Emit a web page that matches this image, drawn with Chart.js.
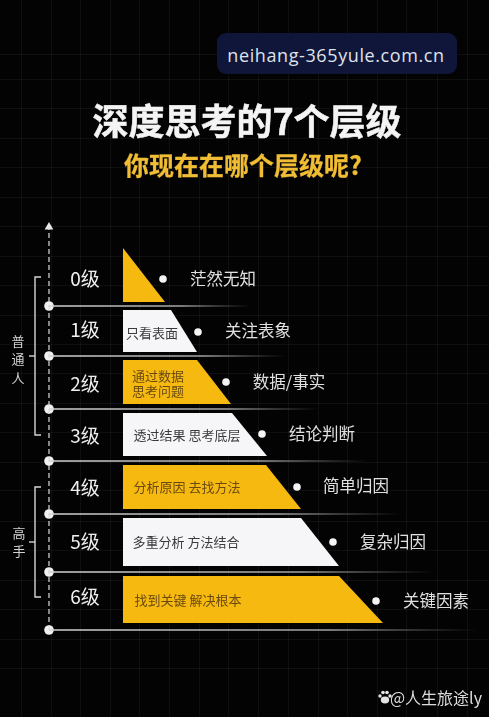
<!DOCTYPE html>
<html lang="zh">
<head>
<meta charset="utf-8">
<style>
    html, body { margin: 0; padding: 0; background: #000; }
    #page { position: relative; width: 489px; height: 717px; overflow: hidden; background: #030303; font-family: "Noto Sans CJK SC", sans-serif; }
    canvas { position: absolute; left: 0; top: 0; }
    .text { position: absolute; white-space: nowrap; transform: translate(-50%, -50%); }
    #badge { position: absolute; left: 217px; top: 33px; width: 240px; height: 41px; border-radius: 9px; background: #10163a; }
    #site { left: 336px; top: 55px; font: 18px "Open Sans", sans-serif; letter-spacing: .6px; color: #dfe2ea; }
    #title { left: 247px; top: 119px; font-size: 36px; font-weight: 700; color: #f4f4f4; -webkit-text-stroke: .5px #f4f4f4; }
    #subtitle { left: 243px; top: 164px; font-size: 25px; font-weight: 700; color: #f1bd35; -webkit-text-stroke: .3px #f1bd35; }
    #mark { left: 436px; top: 697px; font-size: 16px; color: #dcdcdc; }
    #paw { position: absolute; left: 378px; top: 690px; }
</style>
</head>
<body>
<div id="page">
    <canvas id="chart" width="489" height="717"></canvas>
    <div id="badge"></div>
    <div class="text" id="site">neihang-365yule.com.cn</div>
    <div class="text" id="title">深度思考的7个层级</div>
    <div class="text" id="subtitle">你现在在哪个层级呢?</div>
    <svg id="paw" width="14" height="14" viewBox="0 0 14 14" fill="#e4e4e4">
        <circle cx="2" cy="6" r="1.7"/><circle cx="5" cy="2.5" r="1.8"/><circle cx="9" cy="2.5" r="1.8"/><circle cx="12" cy="6" r="1.7"/>
        <ellipse cx="7" cy="10" rx="4.2" ry="3.4"/>
    </svg>
    <div class="text" id="mark">@人生旅途ly</div>
</div>
<script src="https://cdn.jsdelivr.net/npm/chart.js@4/dist/chart.umd.min.js"></script>
<script>
// valores, en unidades de los ejes
const levels = ['0级', '1级', '2级', '3级', '4级', '5级', '6级'];
const notes = ['茫然无知', '关注表象', '数据/事实', '结论判断', '简单归因', '复杂归因', '关键因素'];
const insideText = [[], ['只看表面'], ['通过数据', '思考问题'], ['透过结果 思考底层'], ['分析原因 去找方法'], ['多重分析 方法结合'], ['找到关键 解决根本']];
const rowTop = [248, 310, 360, 413, 465, 518, 576];
const rowBottom = [302, 352, 404, 456, 509, 566, 623];
const edgeTop = [123, 171, 197, 232, 266, 301, 339];
const edgeBottom = [165, 197, 231, 267, 301, 339, 383];
const ruleY = [306, 356, 409, 461, 514, 572, 630];
const ruleEnd = [252, 287, 320, 370, 403, 437, 480];
const dotX = [163, 198, 226, 262, 297, 333, 376];
const dotY = [279, 332, 382, 434, 487, 542, 601];
const levelY = [279, 330, 384, 436, 488, 542, 597];
const noteX = [223, 258, 289, 322, 356, 393, 436];
const noteY = [279, 331, 382, 434, 486, 542, 601];
const insideX = [0, 152, 158, 187, 187, 186, 188];
const insideY = [0, 333, 384, 435, 487, 542, 600];
const gridX = [21, 51, 80, 110, 139, 169, 199, 228, 258, 288, 318, 347, 377, 406, 437, 467];
const gridY = [54, 79, 108, 138, 167, 197, 226, 256, 285, 315, 344, 373, 403, 432, 462, 491, 521, 550, 580, 609, 639, 668];
const axisStart = 630;
const axisEnd = 227;
const normalBracket = [277, 356, 435];
const expertBracket = [487, 542, 597];

const YELLOW = '#f5b90f';
const WHITE = '#f6f6f8';
const isYellow = (i) => i % 2 === 0;

const datasets = [];

levels.forEach((_, i) => {
    datasets.push({
        showLine: true,
        pointRadius: 0,
        borderWidth: 0,
        backgroundColor: isYellow(i) ? YELLOW : WHITE,
        fill: { value: rowBottom[i] },
        data: [
            { x: 123, y: rowTop[i] },
            { x: edgeTop[i], y: rowTop[i] },
            { x: edgeBottom[i], y: rowBottom[i] },
        ],
    });
    datasets.push({
        showLine: true,
        pointRadius: 0,
        borderWidth: 1.5,
        borderColor: (ctx) => {
            const { chart } = ctx;
            if (!chart.chartArea) return '#bbb';
            const xs = chart.scales.x;
            const g = chart.ctx.createLinearGradient(xs.getPixelForValue(49), 0, xs.getPixelForValue(ruleEnd[i]), 0);
            g.addColorStop(0, '#d4d4d4');
            g.addColorStop(0.65, '#a4a4a4');
            g.addColorStop(1, 'rgba(120,120,120,0)');
            return g;
        },
        data: [{ x: 49, y: ruleY[i] }, { x: ruleEnd[i], y: ruleY[i] }],
    });
});

// eje discontinuo con flecha
datasets.push({
    showLine: true,
    pointRadius: 0,
    borderWidth: 1.2,
    borderColor: '#dddddd',
    borderDash: [5, 3],
    data: [{ x: 49, y: axisStart }, { x: 49, y: axisEnd }],
});
datasets.push({
    pointStyle: 'triangle',
    pointRadius: 5,
    backgroundColor: '#e8e8e8',
    borderWidth: 0,
    data: [{ x: 49, y: axisEnd }],
});

// llaves de los dos grupos
[normalBracket, expertBracket].forEach(([top, mid, bottom]) => {
    datasets.push({
        showLine: true,
        pointRadius: 0,
        borderWidth: 1.4,
        borderColor: '#d6d6d6',
        data: [{ x: 41, y: top }, { x: 35, y: top }, { x: 35, y: bottom }, { x: 41, y: bottom }],
    });
    datasets.push({
        showLine: true,
        pointRadius: 0,
        borderWidth: 1.4,
        borderColor: '#d6d6d6',
        data: [{ x: 29, y: mid }, { x: 35, y: mid }],
    });
});

datasets.push({
    pointRadius: 4.8,
    backgroundColor: '#f0f0f0',
    borderWidth: 0,
    data: ruleY.map((y) => ({ x: 49, y })),
});
datasets.push({
    pointRadius: 3.8,
    backgroundColor: '#f4f4f4',
    borderWidth: 0,
    data: dotX.map((x, i) => ({ x, y: dotY[i] })),
});

const rowLabels = {
    id: 'rowLabels',
    afterDatasetsDraw(chart) {
        const { ctx, scales: { x, y } } = chart;
        const put = (text, px, py, font, color) => {
            ctx.font = font;
            ctx.fillStyle = color;
            ctx.fillText(text, x.getPixelForValue(px), y.getPixelForValue(py));
        };
        const cjk = '"Noto Sans CJK SC", sans-serif';

        ctx.save();
        ctx.textAlign = 'center';
        ctx.textBaseline = 'middle';

        levels.forEach((level, i) => {
            put(level, 85, levelY[i], `19px ${cjk}`, '#efefef');
            put(notes[i], noteX[i], noteY[i], `16.5px ${cjk}`, '#e0e0e0');
            const lines = insideText[i];
            lines.forEach((line, n) => {
                const py = insideY[i] + (n - (lines.length - 1) / 2) * 15;
                put(line, insideX[i], py, `13px ${cjk}`, isYellow(i) ? '#6a4a12' : '#3a3a3a');
            });
        });

        ['普', '通', '人'].forEach((c, n) => put(c, 18, 341 + n * 18.5, `13px ${cjk}`, '#d4d4d4'));
        ['高', '手'].forEach((c, n) => put(c, 19, 533 + n * 18, `13px ${cjk}`, '#d4d4d4'));

        ctx.restore();
    },
};

const gridAxis = (min, max, values, reverse) => ({
    type: 'linear',
    min,
    max,
    reverse,
    afterBuildTicks: (axis) => {
        axis.ticks = values.map((value) => ({ value }));
    },
    grid: { color: 'rgba(255, 255, 255, 0.05)', lineWidth: 1, drawTicks: false },
    border: { display: false },
    ticks: { display: false },
});

new Chart(document.getElementById('chart'), {
    type: 'scatter',
    data: { datasets },
    plugins: [rowLabels],
    options: {
        responsive: false,
        animation: false,
        layout: { padding: 0, autoPadding: false },
        plugins: { legend: { display: false }, tooltip: { enabled: false } },
        scales: {
            x: gridAxis(0, 489, gridX, false),
            y: gridAxis(0, 717, gridY, true),
        },
    },
});
</script>
</body>
</html>
